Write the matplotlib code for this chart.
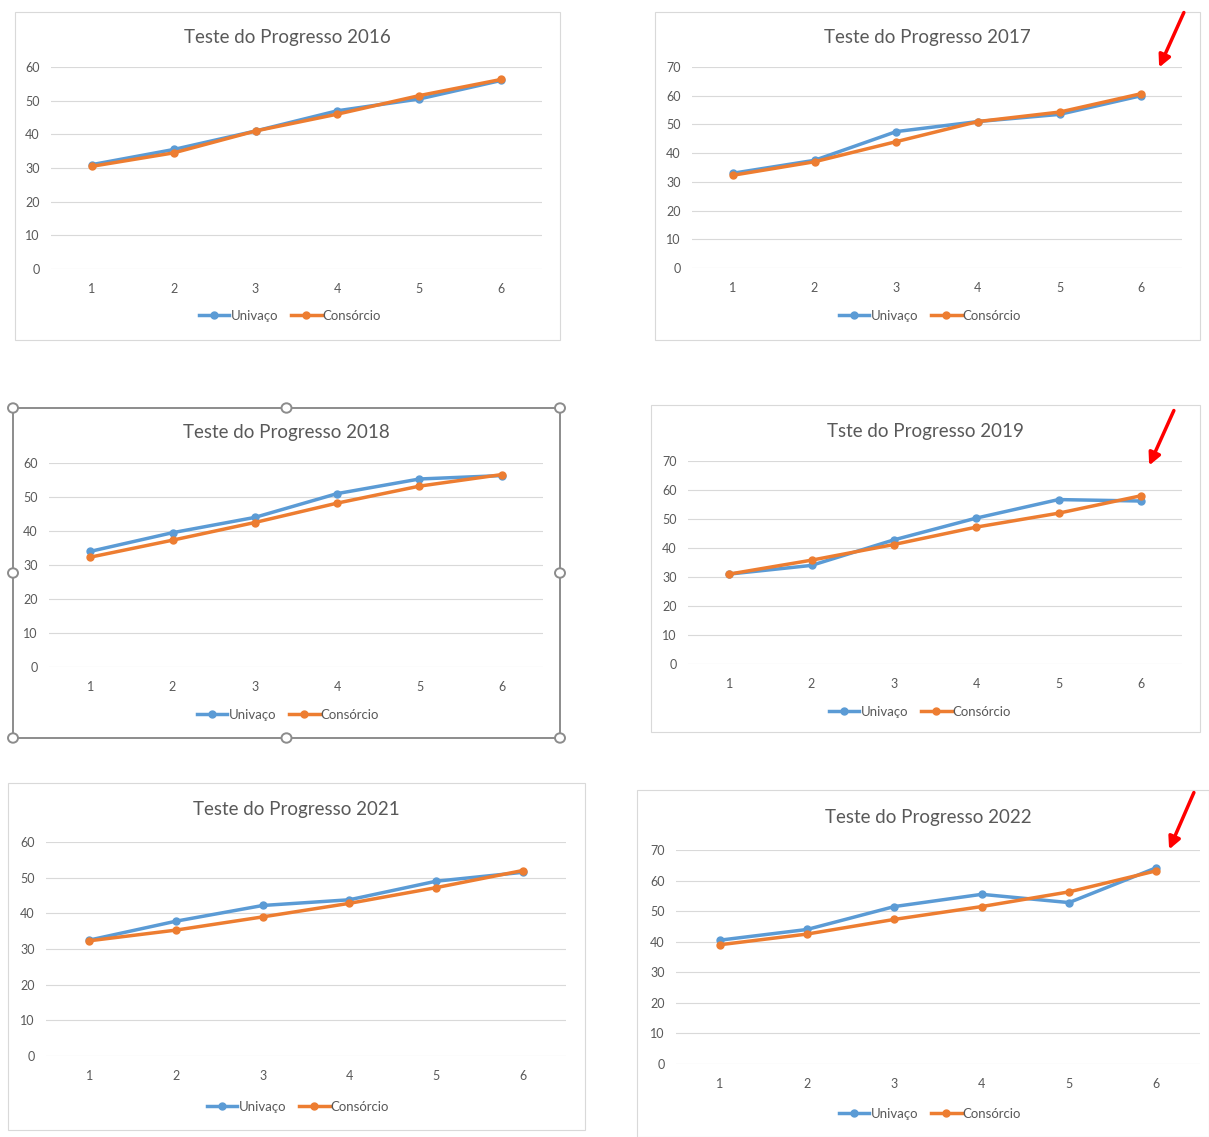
import matplotlib
matplotlib.use('Agg')
import matplotlib.pyplot as plt
from matplotlib.patches import Rectangle, Circle, FancyArrowPatch

plt.rcParams['font.family'] = ['Lato', 'DejaVu Sans']

W, H = 1209, 1137

rounds = [1, 2, 3, 4, 5, 6]
series_names = ['Univaço', 'Consórcio']

titles = ['Teste do Progresso 2016', 'Teste do Progresso 2017',
          'Teste do Progresso 2018', 'Tste do Progresso 2019',
          'Teste do Progresso 2021', 'Teste do Progresso 2022']

univaco_2016 = [31.0, 35.5, 41.0, 47.0, 50.5, 56.0]
consorcio_2016 = [30.5, 34.5, 41.0, 46.0, 51.5, 56.3]
univaco_2017 = [33.0, 37.5, 47.5, 51.0, 53.5, 60.0]
consorcio_2017 = [32.3, 37.0, 44.0, 51.0, 54.3, 60.7]
univaco_2018 = [34.0, 39.5, 44.0, 51.0, 55.3, 56.3]
consorcio_2018 = [32.3, 37.3, 42.5, 48.2, 53.2, 56.6]
univaco_2019 = [31.0, 34.0, 42.8, 50.3, 56.7, 56.2]
consorcio_2019 = [31.0, 35.8, 41.2, 47.2, 52.0, 58.0]
univaco_2021 = [32.5, 37.8, 42.2, 43.8, 49.0, 51.5]
consorcio_2021 = [32.3, 35.3, 39.0, 42.8, 47.2, 52.0]
univaco_2022 = [40.5, 44.0, 51.5, 55.5, 52.8, 64.2]
consorcio_2022 = [39.0, 42.5, 47.3, 51.5, 56.3, 63.2]

y_max = [60, 70, 60, 70, 60, 70]
univaco = [univaco_2016, univaco_2017, univaco_2018, univaco_2019, univaco_2021, univaco_2022]
consorcio = [consorcio_2016, consorcio_2017, consorcio_2018, consorcio_2019, consorcio_2021, consorcio_2022]

# layout in pixels: plot area (left, right, top, bottom), frame box, title/legend rows
plot_boxes = [(51, 542, 67, 269), (692, 1182, 67, 268), (49, 543, 463, 667),
              (688, 1182, 461, 664), (46, 566, 842, 1056), (676, 1200, 850, 1064)]
frames = [(15, 12, 560, 340), (655, 12, 1200, 340), (13, 408, 560, 738),
          (651, 405, 1200, 732), (8, 783, 585, 1130), (637, 790, 1209, 1137)]
title_pos = [(287, 38), (927, 38), (286, 433), (925, 431), (296, 810), (928, 818)]
legend_pos = [(290, 316), (930, 316), (288, 715), (920, 712), (298, 1107), (930, 1114)]

blue = '#5B9BD5'
orange = '#ED7D31'
text_col = '#595959'

fig = plt.figure(figsize=(W / 100, H / 100), dpi=100)
fig.patch.set_facecolor('white')

def fx(x):
    return x / W

def fy(y):
    return 1 - y / H

for i in range(6):
    x0, y0, x1, y1 = frames[i]
    edge = '#8C8C8C' if i == 2 else '#D9D9D9'
    lw = 1.4 if i == 2 else 0.8
    fig.patches.append(Rectangle((fx(x0), fy(y1)), fx(x1 - x0), (y1 - y0) / H,
                                 transform=fig.transFigure, fill=False,
                                 edgecolor=edge, lw=lw))

    l, r, t, b = plot_boxes[i]
    ax = fig.add_axes([fx(l), fy(b), fx(r - l), (b - t) / H])
    ax.plot(rounds, univaco[i], color=blue, lw=2.5, marker='o', ms=5, label=series_names[0])
    ax.plot(rounds, consorcio[i], color=orange, lw=2.5, marker='o', ms=5, label=series_names[1])
    ax.set_xlim(0.5, 6.5)
    ax.set_ylim(0, y_max[i])
    ax.set_yticks(range(0, y_max[i] + 1, 10))
    ax.set_xticks(rounds)
    ax.grid(axis='y', color='#D9D9D9', lw=0.8)
    ax.set_axisbelow(True)
    for s in ax.spines.values():
        s.set_visible(False)
    ax.tick_params(length=0, colors=text_col, labelsize=9)
    ax.tick_params(axis='x', pad=10)
    ax.tick_params(axis='y', pad=8)
    ax.set_facecolor('none')

    tx, ty = title_pos[i]
    fig.text(fx(tx), fy(ty), titles[i], ha='center', va='center', fontsize=13.5, color=text_col)

    lx, ly = legend_pos[i]
    ax.legend(loc='center', bbox_to_anchor=(fx(lx), fy(ly)), bbox_transform=fig.transFigure,
              ncol=2, frameon=False, fontsize=9.5, handlelength=2.3, handletextpad=0.1,
              columnspacing=1.0, labelcolor=text_col)

# selection handles on the 2018 chart
x0, y0, x1, y1 = frames[2]
for hx in (x0, (x0 + x1) / 2, x1):
    for hy in (y0, (y0 + y1) / 2, y1):
        if hx == (x0 + x1) / 2 and hy == (y0 + y1) / 2:
            continue
        fig.patches.append(Circle((fx(hx), fy(hy)), 5 / W, transform=fig.transFigure,
                                  facecolor='white', edgecolor='#8C8C8C', lw=1.4))

# red arrows
arrows = [((1185, 10), (1158, 70)), ((1175, 408), (1148, 468)), ((1195, 790), (1168, 852))]
for (ax0, ay0), (ax1, ay1) in arrows:
    fig.patches.append(FancyArrowPatch((fx(ax0), fy(ay0)), (fx(ax1), fy(ay1)),
                                       transform=fig.transFigure, arrowstyle='-|>',
                                       mutation_scale=18, color='#FF0000', lw=2.5))

fig.savefig('out.png', dpi=100)
